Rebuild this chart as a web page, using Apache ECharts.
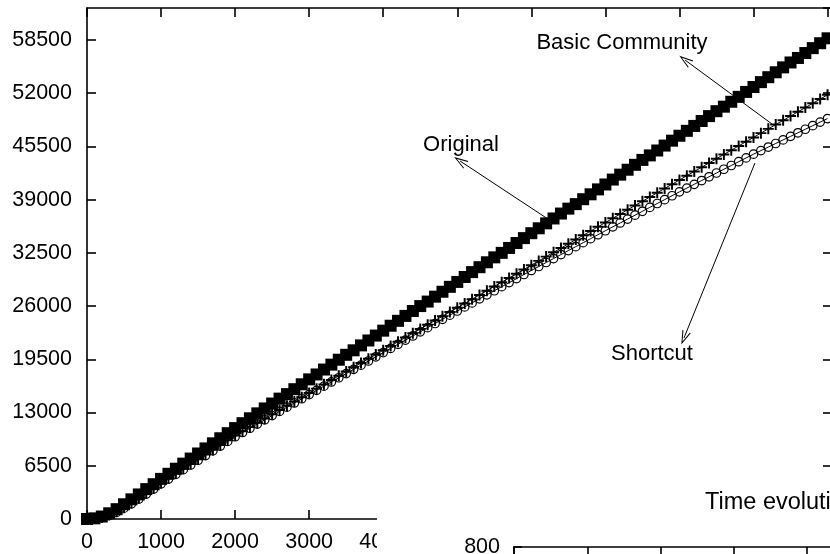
<!DOCTYPE html>
<html>
<head>
<meta charset="utf-8">
<script src="https://cdn.jsdelivr.net/npm/echarts@6/dist/echarts.min.js"></script>
<style>
html,body{margin:0;padding:0;background:#fff;}
#chart{width:830px;height:554px;}
</style>
</head>
<body>
<div id="chart"></div>
<script>
// ---- data ----
const times = [0,100,200,300,400,500,600,700,800,900,1000,1100,1200,1300,1400,1500,1600,1700,1800,1900,2000,2100,2200,2300,2400,2500,2600,2700,2800,2900,3000,3100,3200,3300,3400,3500,3600,3700,3800,3900,4000,4100,4200,4300,4400,4500,4600,4700,4800,4900,5000,5100,5200,5300,5400,5500,5600,5700,5800,5900,6000,6100,6200,6300,6400,6500,6600,6700,6800,6900,7000,7100,7200,7300,7400,7500,7600,7700,7800,7900,8000,8100,8200,8300,8400,8500,8600,8700,8800,8900,9000,9100,9200,9300,9400,9500,9600,9700,9800,9900,10000];

const original = [0,80,300,700,1200,1800,2400,3000,3650,4250,4900,5520,6140,6760,7380,8000,8620,9240,9860,10480,11100,11700,12300,12900,13500,14100,14700,15250,15850,16450,17050,17650,18250,18850,19450,20050,20600,21200,21800,22400,23000,23600,24200,24800,25400,26000,26550,27150,27750,28350,28950,29550,30150,30750,31350,31950,32500,33100,33700,34300,34900,35500,36100,36700,37300,37900,38450,39050,39650,40250,40850,41450,42050,42650,43250,43850,44400,45000,45600,46200,46800,47400,48000,48600,49200,49800,50350,50950,51550,52150,52750,53350,53950,54550,55150,55750,56300,56900,57500,58100,58700];

const basicCommunity = [0,50,200,480,880,1380,1930,2520,3130,3760,4400,4980,5560,6140,6720,7300,7880,8460,9040,9620,10200,10720,11240,11760,12280,12800,13320,13840,14360,14880,15400,15920,16440,16960,17480,18000,18520,19040,19560,20080,20600,21120,21640,22160,22680,23200,23720,24240,24760,25280,25800,26320,26840,27360,27880,28400,28920,29440,29960,30480,31000,31520,32040,32560,33080,33600,34120,34640,35160,35680,36200,36720,37240,37760,38280,38800,39320,39840,40360,40880,41400,41920,42440,42960,43480,44000,44520,45040,45560,46080,46600,47120,47640,48160,48680,49200,49720,50240,50760,51280,51800];

const shortcut = [0,40,170,440,830,1320,1860,2440,3040,3660,4300,4875,5450,6025,6600,7175,7750,8325,8900,9475,10050,10565,11080,11595,12110,12625,13140,13655,14170,14685,15200,15712,16224,16736,17248,17760,18272,18784,19296,19808,20320,20828,21336,21844,22352,22860,23368,23876,24384,24892,25400,25895,26390,26885,27380,27875,28370,28865,29360,29855,30350,30835,31320,31805,32290,32775,33260,33745,34230,34715,35200,35675,36150,36625,37100,37575,38050,38525,39000,39475,39950,40410,40870,41330,41790,42250,42710,43170,43630,44090,44550,44985,45420,45855,46290,46725,47160,47595,48030,48465,48900];

// axis ranges / tick steps
const xMin = 0, xMax = 10060, xStep = 1000;
const yMin = 0, yMax = 62400, yStep = 6500;
const insetYMax = 800, insetYStep = 200;

// annotations: label text and positions in data units
const labelNames  = ['Original', 'Basic Community', 'Shortcut'];
const labelCoords = [[5050, 45670], [7224, 58120], [7629, 20150]];
const arrowFrom   = [[6225, 36630], [9250, 48230], [9020, 43470]];
const arrowTo     = [[5037, 43720], [8075, 56050], [8061, 22100]];

// ---- chart ----
const FONT = "'Liberation Sans', Arial, Helvetica, sans-serif";
const chart = echarts.init(document.getElementById('chart'), null, {renderer: 'canvas'});

const axisLineStyle = {color: '#000', width: 1.6};
const tickStyle = {color: '#000', width: 1.6};
const plusPath = 'path://M4.1,0 H5.9 V4.1 H10 V5.9 H5.9 V10 H4.1 V5.9 H0 V4.1 H4.1 Z';
const arrowHead = 'path://M5,0 L10,14 L8.8,14 L5,3.2 L1.2,14 L0,14 Z';
const plain = v => String(v);

function pairs(vals){ return times.map((t, i) => [t, vals[i]]); }

const option = {
  animation: false,
  backgroundColor: '#fff',
  textStyle: {fontFamily: FONT, color: '#000'},
  grid: [
    {left: 87, top: 8, right: -2, bottom: 35, containLabel: false, outerBoundsMode: 'none'},
    {left: 514, top: 547, right: -2, height: 400, containLabel: false, outerBoundsMode: 'none'}
  ],
  xAxis: [
    {
      type: 'value', gridIndex: 0, position: 'bottom', min: xMin, max: xMax, interval: xStep,
      axisLine: {show: true, onZero: false, lineStyle: axisLineStyle},
      axisTick: {show: true, inside: true, length: 9, lineStyle: tickStyle},
      axisLabel: {show: true, fontSize: 21.5, fontFamily: FONT, color: '#000', margin: 12, showMaxLabel: false, formatter: plain},
      splitLine: {show: false}
    },
    {
      type: 'value', gridIndex: 0, position: 'top', min: xMin, max: xMax, interval: xStep,
      axisLine: {show: true, onZero: false, lineStyle: axisLineStyle},
      axisTick: {show: true, inside: true, length: 9, lineStyle: tickStyle},
      axisLabel: {show: false},
      splitLine: {show: false}
    },
    {
      type: 'value', gridIndex: 1, position: 'top', min: 0, max: 4.34, interval: 1, z: 30,
      axisLine: {show: true, onZero: false, lineStyle: axisLineStyle},
      axisTick: {show: true, inside: true, length: 8, lineStyle: tickStyle},
      axisLabel: {show: false},
      splitLine: {show: false}
    }
  ],
  yAxis: [
    {
      type: 'value', gridIndex: 0, position: 'left', min: yMin, max: yMax, interval: yStep,
      axisLine: {show: true, onZero: false, lineStyle: axisLineStyle},
      axisTick: {show: true, inside: true, length: 9, lineStyle: tickStyle},
      axisLabel: {show: true, fontSize: 21.5, fontFamily: FONT, color: '#000', margin: 15, showMaxLabel: false, formatter: plain},
      splitLine: {show: false}
    },
    {
      type: 'value', gridIndex: 0, position: 'right', min: yMin, max: yMax, interval: yStep,
      axisLine: {show: true, onZero: false, lineStyle: axisLineStyle},
      axisTick: {show: true, inside: true, length: 9, lineStyle: tickStyle},
      axisLabel: {show: false},
      splitLine: {show: false}
    },
    {
      type: 'value', gridIndex: 1, position: 'left', min: 0, max: insetYMax, interval: insetYStep, z: 30,
      axisLine: {show: true, onZero: false, lineStyle: axisLineStyle},
      axisTick: {show: true, inside: true, length: 8, lineStyle: tickStyle},
      axisLabel: {show: true, fontSize: 21.5, fontFamily: FONT, color: '#000', margin: 14, formatter: plain},
      splitLine: {show: false}
    }
  ],
  series: [
    {
      name: 'Shortcut', type: 'line', xAxisIndex: 0, yAxisIndex: 0,
      data: pairs(shortcut),
      symbol: 'circle', symbolSize: 8.5, showAllSymbol: true,
      lineStyle: {color: '#000', width: 1},
      itemStyle: {color: 'rgba(0,0,0,0)', borderColor: '#000', borderWidth: 1.2},
      z: 2
    },
    {
      name: 'Basic Community', type: 'line', xAxisIndex: 0, yAxisIndex: 0,
      data: pairs(basicCommunity),
      symbol: plusPath, symbolSize: 11, showAllSymbol: true,
      lineStyle: {color: '#000', width: 1},
      itemStyle: {color: '#000'},
      z: 3
    },
    {
      name: 'Original', type: 'line', xAxisIndex: 0, yAxisIndex: 0,
      data: pairs(original),
      symbol: 'rect', symbolSize: 12, showAllSymbol: true,
      lineStyle: {color: '#000', width: 1},
      itemStyle: {color: '#000'},
      z: 4,
      markPoint: {
        silent: true,
        symbol: 'circle', symbolSize: 1,
        itemStyle: {color: 'rgba(0,0,0,0)'},
        label: {show: true, position: 'inside', formatter: '{b}', fontSize: 22, fontFamily: FONT, color: '#000'},
        data: labelNames.map((n, i) => ({name: n, coord: labelCoords[i]}))
      },
      markLine: {
        silent: true,
        symbol: ['none', arrowHead], symbolSize: [9, 14],
        lineStyle: {color: '#000', width: 1, type: 'solid'},
        label: {show: false},
        data: arrowFrom.map((f, i) => [{coord: f}, {coord: arrowTo[i]}])
      }
    }
  ],
  graphic: [
    {type: 'rect', left: 377, top: 478, z: 20, shape: {width: 460, height: 80}, style: {fill: '#fff'}},
    {type: 'text', left: 705, top: 491, z: 25, style: {text: 'Time evolution', font: '23.5px ' + FONT, fill: '#000'}}
  ]
};
chart.setOption(option);
</script>
</body>
</html>
